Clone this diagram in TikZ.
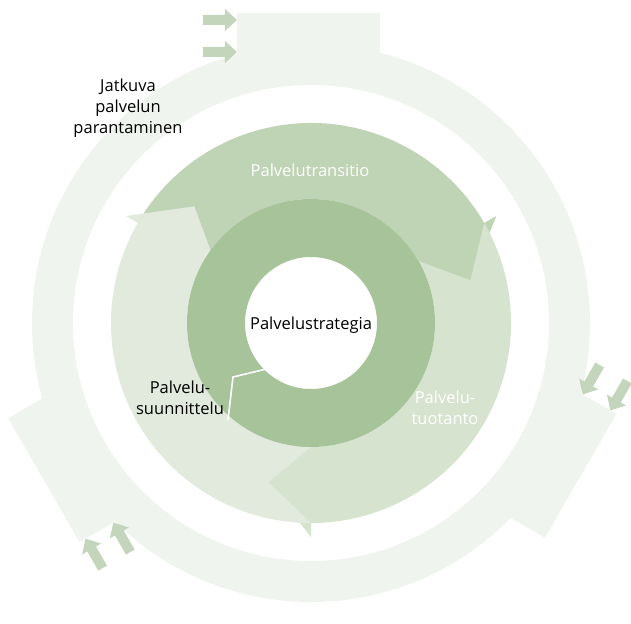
\documentclass[tikz,border=0pt]{standalone}
\usepackage{fontspec}
\setmainfont{Open Sans}
\definecolor{outerc}{HTML}{F0F4EE}
\definecolor{smallc}{HTML}{C3D5BA}
\definecolor{transc}{HTML}{BFD3B5}
\definecolor{prodc}{HTML}{D6E3CF}
\definecolor{planc}{HTML}{E1EADC}
\definecolor{strc}{HTML}{A6C39A}
\begin{document}
\begin{tikzpicture}[x=1pt,y=1pt,
  lbl/.style={font=\fontsize{16.5}{21}\selectfont,align=center,inner sep=0pt},
  smallarrow/.style={fill=smallc,draw=none}]
\useasboundingbox (-311,-300) rectangle (320,323);
% outer ring with boxes and small arrows
\fill[outerc,even odd rule] (0,0) circle (279) (0,0) circle (238);
\foreach \r in {0,-120,-240}{
  \begin{scope}[rotate=\r]
    \fill[outerc] (-74,262) rectangle (69,310);
    \foreach \yy in {303,271}{
      \fill[smallarrow] (-108,\yy-5) -- (-86,\yy-5) -- (-86,\yy-11) -- (-74,\yy) -- (-86,\yy+11) -- (-86,\yy+5) -- (-108,\yy+5) -- cycle;
    }
  \end{scope}
}
% middle ring arrows: start angle s, end angle e
\foreach \s/\e/\c in {150/30/transc, 30/-90/prodc, 270/150/planc}{
  \pgfmathsetmacro{\t}{\e-15}
  \pgfmathsetmacro{\q}{\s-15}
  \fill[\c] (\s:200) arc[start angle=\s,end angle=\e,radius=200]
     -- (\e:214) -- (\t:165) -- (\e:108) -- (\e:124)
     arc[start angle=\e,end angle=\s,radius=124] -- (\q:165) -- cycle;
}
% inner ring
\fill[strc,even odd rule] (0,0) circle (124) (0,0) circle (66);
\draw[white,line width=1.6pt] (-28,-42) -- (-78,-54) -- (-83,-97);
% labels
\node[lbl] (jat) at (-183,215) {Jatkuva\\palvelun\\parantaminen};
\node[lbl,text=white] (tra) at (-1,153) {Palvelutransitio};
\node[lbl,text=white] (tuo) at (134,-85) {Palvelu-\\tuotanto};
\node[lbl] (suu) at (-131,-75) {Palvelu-\\suunnittelu};
\node[lbl] (str) at (0,-2) {Palvelustrategia};
\end{tikzpicture}
\end{document}
